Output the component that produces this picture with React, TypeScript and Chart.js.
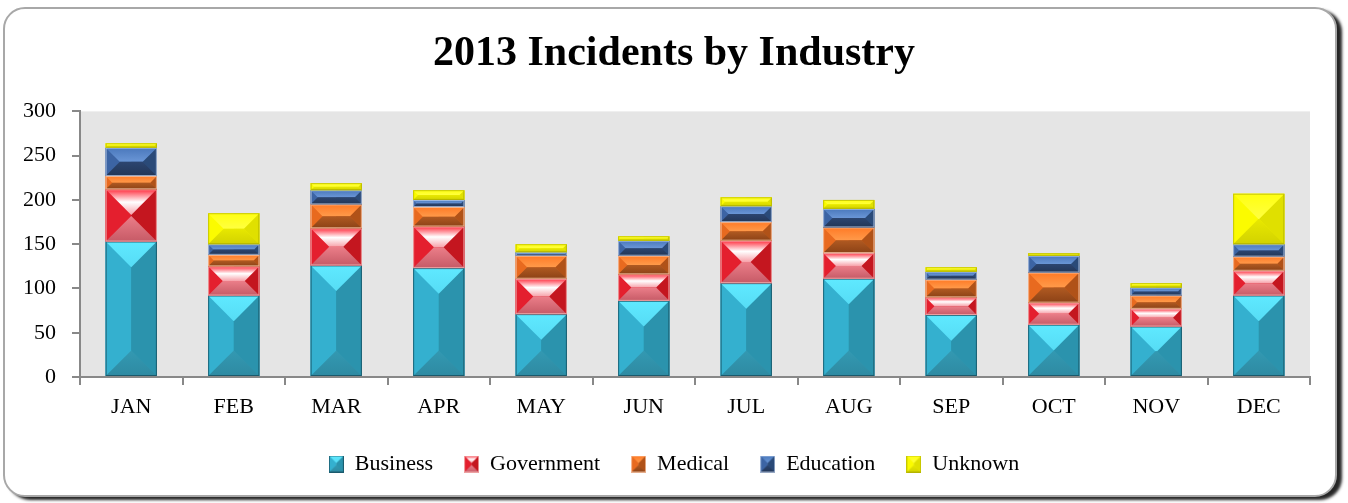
import React, { useEffect, useRef } from 'react';
import { Chart, registerables } from 'chart.js';

Chart.register(...registerables);

const months = ['JAN', 'FEB', 'MAR', 'APR', 'MAY', 'JUN', 'JUL', 'AUG', 'SEP', 'OCT', 'NOV', 'DEC'];
const business = [153, 92, 126, 123, 71, 86, 106, 111, 70, 59, 57, 92];
const government = [59, 33, 42, 47, 40, 30, 48, 29, 20, 25, 20, 28];
const medical = [15, 13, 27, 22, 26, 21, 21, 29, 20, 34, 15, 16];
const education = [32, 12, 16, 8, 4, 17, 18, 21, 9, 19, 9, 14];
const unknown = [5, 35, 8, 11, 9, 5, 10, 10, 5, 3, 5, 57];
const seriesNames = ['Business', 'Government', 'Medical', 'Education', 'Unknown'];

type Pal = {
  base: string;
  left: string;
  right: string;
  top: string[];
  bottom: string[];
  sideL: string;
  sideR: string;
  edge: string;
};

const palettes: Pal[] = [
  { base: '#31a8c6', left: '#35b3d1', right: '#2c97b1', top: ['#5fe9ff', '#56dcf5'], bottom: ['#3399b2', '#2e8aa2'], sideL: '#34b0cf', sideR: '#2b93ad', edge: 'rgba(20,70,85,0.7)' },
  { base: '#e21e2c', left: '#e32130', right: '#d01a28', top: ['#ff2f3f', '#ffffff', '#f7a2aa'], bottom: ['#eb7e89', '#c65a66'], sideL: '#e41f2e', sideR: '#c4161f', edge: 'rgba(240,170,170,0.9)' },
  { base: '#ec6a1e', left: '#ef6e20', right: '#c85a1a', top: ['#ff7a26', '#ff9a4a'], bottom: ['#b05a22', '#8c4216'], sideL: '#e86a1f', sideR: '#b05218', edge: 'rgba(250,200,170,0.8)' },
  { base: '#3b62a0', left: '#3f68a8', right: '#2f5088', top: ['#4a78bc', '#6a96d6'], bottom: ['#2c4570', '#223657'], sideL: '#3c64a4', sideR: '#2a4a78', edge: 'rgba(200,215,240,0.7)' },
  { base: '#ffff00', left: '#ffff00', right: '#eeee00', top: ['#ffff10', '#ffff40'], bottom: ['#e8e800', '#d2d200'], sideL: '#fbfb00', sideR: '#e0e000', edge: 'rgba(150,150,0,0.5)' },
];

function poly(ctx: CanvasRenderingContext2D, pts: number[][], fill: string | CanvasGradient) {
  ctx.beginPath();
  ctx.moveTo(pts[0][0], pts[0][1]);
  for (let i = 1; i < pts.length; i++) ctx.lineTo(pts[i][0], pts[i][1]);
  ctx.closePath();
  ctx.fillStyle = fill;
  ctx.fill();
}

function vGrad(ctx: CanvasRenderingContext2D, y0: number, y1: number, cols: string[]) {
  const g = ctx.createLinearGradient(0, y0, 0, y1);
  cols.forEach((c, i) => g.addColorStop(cols.length === 1 ? 0 : i / (cols.length - 1), c));
  return g;
}

function drawBevel(ctx: CanvasRenderingContext2D, l: number, t: number, r: number, b: number, p: Pal) {
  const w = r - l;
  const h = b - t;
  if (w <= 0 || h <= 0) return;
  const d = Math.min(w / 2, h / 2);
  const cx = (l + r) / 2;
  ctx.save();
  ctx.fillStyle = p.left;
  ctx.fillRect(l, t, cx - l, h);
  ctx.fillStyle = p.right;
  ctx.fillRect(cx, t, r - cx, h);
  poly(ctx, [[l, t], [l + d, t + d], [l + d, b - d], [l, b]], p.sideL);
  poly(ctx, [[r, t], [r - d, t + d], [r - d, b - d], [r, b]], p.sideR);
  poly(ctx, [[l, t], [r, t], [r - d, t + d], [l + d, t + d]], vGrad(ctx, t, t + d, p.top));
  poly(ctx, [[l, b], [r, b], [r - d, b - d], [l + d, b - d]], vGrad(ctx, b - d, b, p.bottom));
  ctx.strokeStyle = p.edge;
  ctx.lineWidth = 1;
  ctx.strokeRect(l + 0.5, t + 0.5, w - 1, h - 1);
  ctx.restore();
}

function markerCanvas(p: Pal) {
  const c = document.createElement('canvas');
  c.width = 15;
  c.height = 17;
  const ctx = c.getContext('2d');
  if (ctx) drawBevel(ctx, 0, 0, 15, 17, p);
  return c;
}

const bevelPlugin = {
  id: 'bevelBars',
  beforeDraw(chart: any) {
    const { ctx, chartArea } = chart;
    ctx.save();
    ctx.fillStyle = '#e5e5e5';
    ctx.fillRect(chartArea.left, chartArea.top, chartArea.right - chartArea.left, chartArea.bottom - chartArea.top);
    ctx.restore();
  },
  afterDatasetsDraw(chart: any) {
    const ctx = chart.ctx;
    chart.getSortedVisibleDatasetMetas().forEach((meta: any) => {
      const p = palettes[meta.index];
      meta.data.forEach((el: any) => {
        const { x, y, base, width } = el.getProps(['x', 'y', 'base', 'width'], true);
        drawBevel(ctx, x - width / 2, Math.min(y, base), x + width / 2, Math.max(y, base), p);
      });
    });
  },
};

export default function App() {
  const ref = useRef<HTMLCanvasElement | null>(null);
  useEffect(() => {
    if (!ref.current) return;
    const values = [business, government, medical, education, unknown];
    const markers = palettes.map(markerCanvas);
    const font = 'Liberation Serif';
    const chart = new Chart(ref.current, {
      type: 'bar',
      data: {
        labels: months,
        datasets: seriesNames.map((name, i) => ({
          label: name,
          data: values[i],
          backgroundColor: palettes[i].base,
          borderWidth: 0,
          barPercentage: 0.5,
          categoryPercentage: 1,
          pointStyle: markers[i] as any,
        })),
      },
      options: {
        animation: false,
        responsive: true,
        maintainAspectRatio: false,
        layout: { padding: { left: 0, right: 0, top: 0, bottom: 18 } },
        plugins: {
          title: {
            display: true,
            text: '2013 Incidents by Industry',
            color: '#000',
            font: { family: font, size: 42, weight: 'bold' },
            padding: { top: 29, bottom: 32 },
          },
          legend: {
            position: 'bottom',
            labels: {
              usePointStyle: true,
              boxWidth: 15,
              boxHeight: 17,
              padding: 31,
              color: '#000',
              font: { family: font, size: 22 },
            },
          },
          tooltip: { enabled: false },
        },
        scales: {
          x: {
            stacked: true,
            afterFit: (s: any) => { s.height = 45; },
            grid: { offset: true, drawOnChartArea: false, tickLength: 8, color: '#888', lineWidth: 2 },
            border: { color: '#888', width: 2 },
            ticks: { color: '#000', font: { family: font, size: 22 }, padding: 9 },
          },
          y: {
            stacked: true,
            min: 0,
            max: 300,
            afterFit: (s: any) => { s.width = 80; },
            grid: { drawOnChartArea: false, tickLength: 8, color: '#888', lineWidth: 2 },
            border: { color: '#888', width: 2 },
            ticks: { stepSize: 50, color: '#000', font: { family: font, size: 22 }, padding: 16 },
          },
          spacer: {
            type: 'linear',
            position: 'right',
            display: true,
            afterFit: (s: any) => { s.width = 38; },
            grid: { display: false },
            border: { display: false },
            ticks: { display: false },
          },
        },
      },
      plugins: [bevelPlugin],
    });
    return () => chart.destroy();
  }, []);

  return (
    <div style={{ position: 'fixed', left: 0, top: 0, width: 1348, height: 503, background: '#fff' }}>
      <div
        style={{
          position: 'absolute',
          left: 3,
          top: 7,
          width: 1334,
          height: 490,
          boxSizing: 'border-box',
          border: '2px solid #a8a8a8',
          borderRadius: 22,
          boxShadow: '5px 3px 3px rgba(0,0,0,0.85)',
          background: '#fff',
        }}
      />
      <div style={{ position: 'absolute', left: 0, top: 0, width: 1348, height: 503 }}>
        <canvas ref={ref} />
      </div>
    </div>
  );
}
